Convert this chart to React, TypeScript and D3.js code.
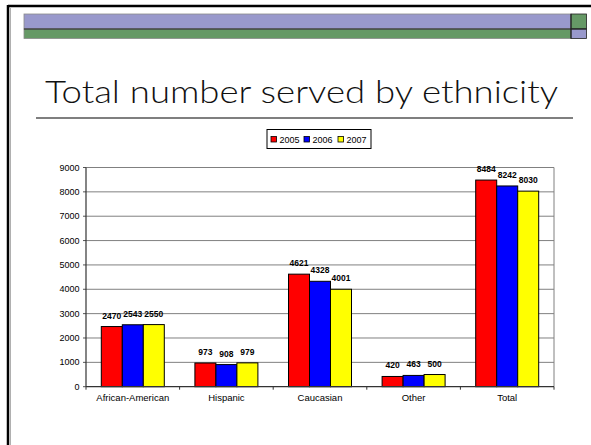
import React from "react";
import * as d3 from "d3";

const categories = ["African-American", "Hispanic", "Caucasian", "Other", "Total"];
const years = ["2005", "2006", "2007"];
const values2005 = [2470, 973, 4621, 420, 8484];
const values2006 = [2543, 908, 4328, 463, 8242];
const values2007 = [2550, 979, 4001, 500, 8030];
const yTicks = [0, 1000, 2000, 3000, 4000, 5000, 6000, 7000, 8000, 9000];
const seriesColors = ["#FF0000", "#0000FF", "#FFFF00"];
const title = "Total number served by ethnicity";

const W = 591;
const H = 445;
const plot = { left: 86, right: 554, top: 167.5, bottom: 386.7 };

export default function App() {
  const series = [values2005, values2006, values2007];
  const x = d3
    .scaleBand<string>()
    .domain(categories)
    .range([plot.left, plot.right])
    .paddingInner(0.327)
    .paddingOuter(0.1635);
  const xs = d3.scaleBand<string>().domain(years).range([0, x.bandwidth()]);
  const y = d3.scaleLinear().domain([0, 9000]).range([plot.bottom, plot.top]);
  const step = (plot.right - plot.left) / categories.length;
  const boundaries = d3.range(categories.length + 1).map((i) => plot.left + i * step);

  const legendX = 267;
  const legendY = 129.5;
  const legendItemX = [271, 304, 338];

  return (
    <svg
      width={W}
      height={H}
      viewBox={`0 0 ${W} ${H}`}
      style={{ position: "fixed", left: 0, top: 0, display: "block", background: "#fff" }}
      fontFamily="Arial, 'Liberation Sans', sans-serif"
    >
      {/* slide frame */}
      <line x1={8} y1={6} x2={W} y2={6} stroke="#000" strokeWidth={2.5} />
      <line x1={8} y1={5} x2={8} y2={H} stroke="#000" strokeWidth={2.5} />
      <line x1={10.5} y1={8} x2={10.5} y2={H} stroke="#b0b0b0" strokeWidth={1} />

      {/* header bars */}
      <rect x={24} y={14} width={547} height={15} fill="#9999CC" stroke="#8a8a8a" strokeWidth={0.8} />
      <rect x={24} y={29} width={547} height={9.5} fill="#669966" stroke="#8a8a8a" strokeWidth={0.8} />
      <rect x={571} y={14} width={15.5} height={15} fill="#669966" stroke="#222" strokeWidth={0.8} />
      <rect x={571} y={29} width={15.5} height={9.5} fill="#9999CC" stroke="#222" strokeWidth={0.8} />
      <line x1={24} y1={29} x2={586.5} y2={29} stroke="#222" strokeWidth={1} />
      <line x1={571} y1={14} x2={571} y2={38.5} stroke="#222" strokeWidth={1} />

      {/* title */}
      <text
        x={301.5}
        y={103}
        textAnchor="middle"
        fontFamily="Lato, 'Open Sans', sans-serif"
        fontWeight={300}
        fontSize={32}
        fill="#111"
        textLength={513}
        lengthAdjust="spacingAndGlyphs"
      >
        {title}
      </text>
      <line x1={36} y1={118} x2={573} y2={118} stroke="#000" strokeWidth={1.2} />

      {/* legend */}
      <rect x={legendX} y={legendY} width={104} height={19} fill="#fff" stroke="#000" strokeWidth={1} />
      {years.map((yr, i) => (
        <g key={yr}>
          <rect
            x={legendItemX[i]}
            y={136.5}
            width={5.5}
            height={5.5}
            fill={seriesColors[i]}
            stroke="#000"
            strokeWidth={0.8}
          />
          <text x={legendItemX[i] + 8.5} y={142.5} fontSize={9} fill="#000">
            {yr}
          </text>
        </g>
      ))}

      {/* gridlines */}
      {yTicks.map((t) => (
        <g key={t}>
          {t > 0 && (
            <line x1={plot.left} x2={plot.right} y1={y(t)} y2={y(t)} stroke="#808080" strokeWidth={1} />
          )}
          <line x1={plot.left - 3} x2={plot.left} y1={y(t)} y2={y(t)} stroke="#555" strokeWidth={1} />
          <text x={plot.left - 6.5} y={y(t)} dy="0.35em" textAnchor="end" fontSize={9} fill="#000">
            {t}
          </text>
        </g>
      ))}
      <line x1={plot.right} x2={plot.right} y1={plot.top} y2={plot.bottom} stroke="#808080" strokeWidth={1} />

      {/* bars */}
      {categories.map((c, ci) => (
        <g key={c}>
          {series.map((vals, si) => {
            const bx = (x(c) as number) + (xs(years[si]) as number);
            const by = y(vals[ci]);
            return (
              <g key={si}>
                <rect
                  x={bx}
                  y={by}
                  width={xs.bandwidth()}
                  height={plot.bottom - by}
                  fill={seriesColors[si]}
                  stroke="#000"
                  strokeWidth={1}
                />
                <text
                  x={bx + xs.bandwidth() / 2}
                  y={by - 8}
                  textAnchor="middle"
                  fontSize={8.5}
                  fontWeight="bold"
                  fill="#000"
                >
                  {vals[ci]}
                </text>
              </g>
            );
          })}
          <text
            x={(x(c) as number) + x.bandwidth() / 2}
            y={401}
            textAnchor="middle"
            fontSize={9.5}
            fill="#000"
          >
            {c}
          </text>
        </g>
      ))}

      {/* axes */}
      <line x1={plot.left} x2={plot.left} y1={plot.top} y2={plot.bottom} stroke="#333" strokeWidth={1.2} />
      <line x1={plot.left} x2={plot.right} y1={plot.bottom} y2={plot.bottom} stroke="#333" strokeWidth={1.2} />
      {boundaries.map((bx, i) => (
        <line key={i} x1={bx} x2={bx} y1={plot.bottom} y2={plot.bottom + 3} stroke="#333" strokeWidth={1} />
      ))}
    </svg>
  );
}
